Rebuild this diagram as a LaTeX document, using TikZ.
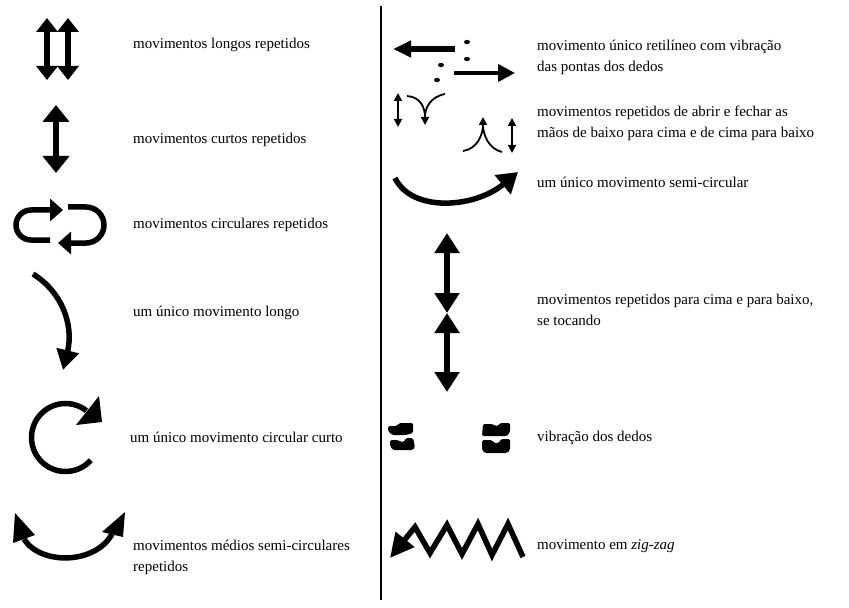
\documentclass[tikz,border=0pt]{standalone}
\usepackage{fontspec}
\setmainfont{Liberation Serif}
\usetikzlibrary{arrows.meta}

\begin{document}
\begin{tikzpicture}[x=1bp, y=-1bp, >={Triangle[length=18bp,width=24bp]},
  heavy/.style={line width=5.5bp},
  light/.style={line width=1.8bp, >={Triangle[length=8bp,width=8bp]}},
  txt/.style={anchor=west, inner sep=0pt, align=left, font=\fontsize{15bp}{21bp}\selectfont}]
  \useasboundingbox (0,0) rectangle (849,608);

  % divider
  \draw[line width=2bp] (381,6) -- (381,600);

  % left column
  \draw[heavy, <->, >={Triangle[length=14bp,width=21bp]}] (47,18) -- (47,80);
  \draw[heavy, <->, >={Triangle[length=14bp,width=21bp]}] (68,18) -- (68,80);
  \node[txt] (longos) at (133,45) {movimentos longos repetidos};

  \draw[heavy, <->, >={Triangle[length=17bp,width=26bp]}] (56,105) -- (56,173);
  \node[txt] (curtos) at (133,140) {movimentos curtos repetidos};

  \draw[heavy, ->, >={Triangle[length=13bp,width=22bp]}] (50,240) -- (31,240) arc[start angle=90, end angle=270, radius=15] -- (63,210);
  \draw[heavy, ->, >={Triangle[length=13bp,width=22bp]}] (68,207) -- (86,207) arc[start angle=270, end angle=450, radius=18] -- (58,243);
  \node[txt] (circulares) at (133,225) {movimentos circulares repetidos};

  \draw[heavy, ->, >={Triangle[length=20bp,width=22bp]}] (33,274) .. controls (62,292) and (74,325) .. (63,370);
  \node[txt] (longo) at (133,313) {um único movimento longo};

  \draw[heavy] (65.5,437.5) ++(42:34) arc[start angle=42, end angle=308, radius=34];
  \fill (99,396) -- (102,422) -- (76,425) -- cycle;
  \node[txt] (circular) at (130,437) {um único movimento circular curto};

  \draw[heavy] (24,539) .. controls (40,565) and (95,565) .. (112,534);
  \fill (15,513) -- (35,535) -- (13,543) -- cycle;
  \fill (125,512) -- (123,537) -- (102,532) -- cycle;
  \node[txt] (medios) at (133,557) {movimentos médios semi-circulares\\repetidos};

  % right column
  \draw[heavy, ->, >={Triangle[length=18bp,width=16bp]}] (455,49) -- (393,49);
  \draw[line width=4bp, ->, >={Triangle[length=17bp,width=17bp]}] (454,73) -- (515,73);
  \foreach \p in {(467,42),(467,59),(441,65),(437,80)}
    \fill \p circle[x radius=3, y radius=2.2];
  \node[txt] (retilineo) at (537,57) {movimento único retilíneo com vibração\\das pontas dos dedos};

  \draw[light, <->] (398,93) -- (398,127);
  \draw[light, ->] (407,96) .. controls (421,97) and (425,108) .. (425,125);
  \draw[light] (445,94) .. controls (430,97) and (425,108) .. (425,117);
  \draw[light, ->] (463,151) .. controls (477,149) and (483,135) .. (483,117);
  \draw[light] (502,152) .. controls (489,149) and (483,135) .. (483,125);
  \draw[light, <->] (512,118) -- (512,153);
  \node[txt] (abrir) at (537,123) {movimentos repetidos de abrir e fechar as\\mãos de baixo para cima e de cima para baixo};

  \draw[heavy, ->, >={Triangle[length=20bp,width=24bp]}] (395,178) .. controls (412,213) and (475,208) .. (518,172);
  \node[txt] (semi) at (537,182) {um único movimento semi-circular};

  \draw[heavy, <->, >={Triangle[length=20bp,width=24bp]}] (447,233) -- (447,313);
  \draw[heavy, <->, >={Triangle[length=20bp,width=24bp]}] (447,313) -- (447,392);
  \node[txt] (tocando) at (537,310) {movimentos repetidos para cima e para baixo,\\se tocando};

  % vibration
  \fill[rounded corners=1.5bp] (388,426) -- (397,426) -- (399,423) -- (413,423) -- (413,433) -- (406,435) -- (392,435) -- (388,431) -- cycle;
  \fill[rounded corners=1.5bp] (390,440) -- (398,440) -- (401,442) -- (404,442) -- (406,438) -- (413,438) -- (415,447) -- (413,450) -- (393,450) -- (390,446) -- cycle;
  \fill[rounded corners=1.5bp] (483,424) -- (493,424) -- (495,426) -- (498,426) -- (500,423) -- (510,423) -- (510,432) -- (507,436) -- (482,436) -- cycle;
  \fill[rounded corners=1.5bp] (482,440) -- (492,440) -- (494,443) -- (499,443) -- (501,439) -- (510,439) -- (510,450) -- (507,453) -- (485,453) -- (482,450) -- cycle;
  \node[txt] (vibracao) at (537,438) {vibração dos dedos};

  \draw[heavy, ->, >={Triangle[length=24bp,width=23bp]}] (523,557) -- (508,524) -- (492,555) -- (478,524) -- (462,554) -- (447,525) -- (430,553) -- (415,527) -- (390,558);
  \node[txt] (zigzag) at (537,546) {movimento em \textit{zig-zag}};
\end{tikzpicture}
\end{document}
